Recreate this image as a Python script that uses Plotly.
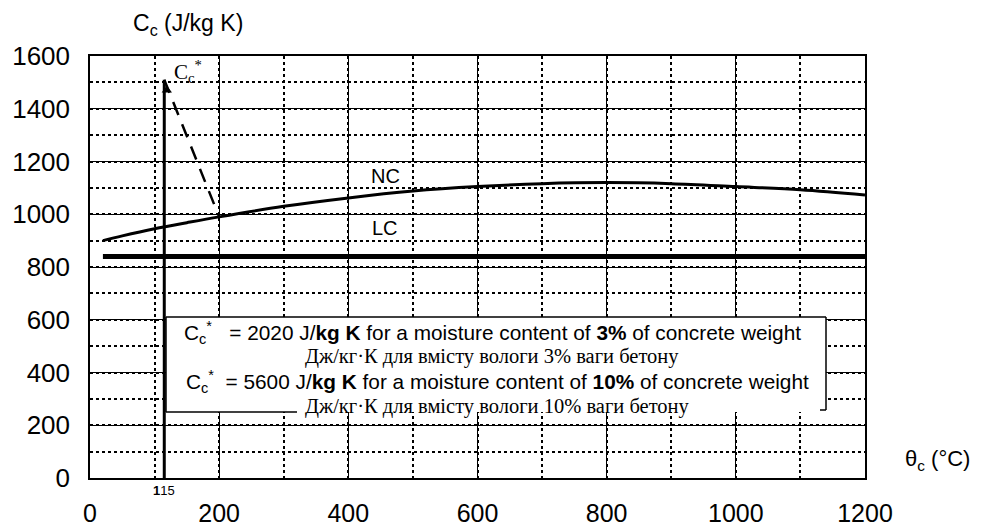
import plotly.graph_objects as go

# ---- data ----
nc_temp = [20, 50, 100, 150, 200, 300, 400, 500, 600, 700, 800, 900, 1000, 1100, 1200]
nc_cp = [900, 918, 945, 968, 990, 1030, 1062, 1088, 1105, 1116, 1120, 1116, 1105, 1093, 1073]
lc_temp = [20, 1200]
lc_cp = [840, 840]
peak_temp = [115, 115]
peak_cp = [0, 1510]
drop_temp = [115, 200]
drop_cp = [1510, 990]
x_ticks = [0, 200, 400, 600, 800, 1000, 1200]
y_ticks = [0, 200, 400, 600, 800, 1000, 1200, 1400, 1600]

# plot geometry (pixels) for text placement
L, R, T, B = 90, 865, 56, 478
def xp(px):
    return (px - L) / (R - L)
def yp(py):
    return (B - py) / (B - T)

SANS = "Liberation Sans, Arial, sans-serif"
SERIF = "Liberation Serif, Times New Roman, serif"

fig = go.Figure()
fig.add_trace(go.Scatter(x=nc_temp, y=nc_cp, mode="lines", line=dict(color="black", width=3, shape="spline"), showlegend=False))
fig.add_trace(go.Scatter(x=lc_temp, y=lc_cp, mode="lines", line=dict(color="black", width=5), showlegend=False))
fig.add_trace(go.Scatter(x=peak_temp, y=peak_cp, mode="lines", line=dict(color="black", width=3), showlegend=False))
fig.add_trace(go.Scatter(x=drop_temp, y=drop_cp, mode="lines", line=dict(color="black", width=2.5, dash="14px,10px"), showlegend=False))
fig.add_trace(go.Scatter(x=[peak_temp[1] + 4], y=[peak_cp[1] - 40], mode="markers",
                         marker=dict(symbol="triangle-up", size=9, color="black"), showlegend=False))

fig.update_xaxes(range=[0, 1200], tickvals=x_ticks, ticktext=[str(v) for v in x_ticks],
                 showgrid=True, gridcolor="black", gridwidth=1,
                 minor=dict(dtick=100, showgrid=True, gridcolor="black", gridwidth=2, griddash="3px,3px"),
                 showline=True, linecolor="black", linewidth=1.5, mirror=True, automargin=False,
                 ticks="", ticklabelstandoff=12, zeroline=False,
                 tickfont=dict(family=SANS, size=25, color="black"))
fig.update_yaxes(range=[0, 1600], tickvals=y_ticks, ticktext=[str(v) for v in y_ticks],
                 showgrid=True, gridcolor="black", gridwidth=1,
                 minor=dict(dtick=100, showgrid=True, gridcolor="black", gridwidth=2, griddash="3px,3px"),
                 showline=True, linecolor="black", linewidth=1.5, mirror=True, automargin=False,
                 ticks="", ticklabelstandoff=13, zeroline=False,
                 tickfont=dict(family=SANS, size=26, color="black"))

shapes = []
bx0, bx1, by0, by1 = 166, 826, 317, 412
shapes.append(dict(type="rect", xref="paper", yref="paper", x0=xp(bx0), x1=xp(bx1), y0=yp(by1), y1=yp(by0),
                   fillcolor="white", line=dict(width=0), layer="above"))
for (a, b, c, d) in [(bx0, by0, bx1, by0), (bx0, by0, bx0, by1), (bx1, by0, bx1, 410),
                     (bx0, by1, 297, by1), (820, 410, bx1, 410)]:
    shapes.append(dict(type="line", xref="paper", yref="paper", x0=xp(a), y0=yp(b), x1=xp(c), y1=yp(d),
                       line=dict(color="black", width=1.5), layer="above"))

ann = []
def add(text, x, y, size, family=SANS, xanchor="center", yanchor="middle", xref="paper", yref="paper"):
    ann.append(dict(text=text, x=x, y=y, xref=xref, yref=yref, showarrow=False,
                    xanchor=xanchor, yanchor=yanchor, font=dict(family=family, size=size, color="black")))

add("C<sub>c</sub> (J/kg K)", xp(188), yp(24), 23)
add("θ<sub>c</sub> (°C)", xp(903), yp(460), 22, xanchor="left")
add("<b>1</b>15", 115, yp(490), 13, yref="paper", xref="x")
add("C<sub>c</sub><sup>*</sup>", xp(172), yp(72), 21, family=SERIF, xanchor="left")
add("NC", xp(385), yp(176), 20)
add("LC", xp(385), yp(228), 20)
add("C<sub>c</sub><sup>*</sup>   = 2020 J/<b>kg K</b> for a moisture content of <b>3%</b> of concrete weight", xp(182), yp(332), 20.8, xanchor="left")
add("Дж/кг·К для вмісту вологи 3% ваги бетону", xp(303), yp(356), 20.5, family=SERIF, xanchor="left")
add("C<sub>c</sub><sup>*</sup>  = 5600 J/<b>kg K</b> for a moisture content of <b>10%</b> of concrete weight", xp(184), yp(381), 20.8, xanchor="left")
add("Дж/кг·К для вмісту вологи 10% ваги бетону", xp(303), yp(406), 20.5, family=SERIF, xanchor="left")

fig.update_layout(width=983, height=530, margin=dict(l=L, r=983 - R, t=T, b=530 - B),
                  plot_bgcolor="white", paper_bgcolor="white", shapes=shapes, annotations=ann,
                  font=dict(family=SANS, color="black"))
fig.write_html("out.html")
